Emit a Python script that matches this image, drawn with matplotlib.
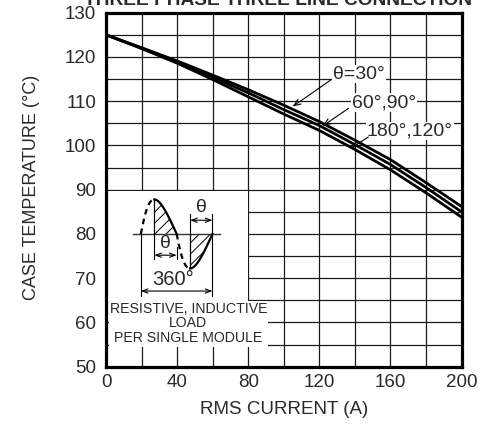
import numpy as np
import matplotlib
matplotlib.use("Agg")
import matplotlib.pyplot as plt
from matplotlib.patches import Rectangle

plt.rcParams['font.family'] = ['Liberation Sans', 'DejaVu Sans']
plt.rcParams['hatch.linewidth'] = 0.7

# ---- data ----
current = [0, 20, 40, 60, 80, 100, 120, 140, 160, 180, 200]
temp_30 = [125, 122.1, 119.1, 115.9, 112.6, 109.1, 105.4, 101.2, 96.8, 91.6, 86.2]
temp_60_90 = [125, 122.0, 118.8, 115.4, 111.9, 108.1, 104.5, 100.2, 95.7, 90.5, 85.0]
temp_180_120 = [125, 121.9, 118.6, 114.9, 111.0, 107.1, 103.4, 99.1, 94.5, 89.3, 83.8]
series_labels = ["θ=30°", "60°,90°", "180°,120°"]
x_ticks = [0, 40, 80, 120, 160, 200]
y_ticks = [50, 60, 70, 80, 90, 100, 110, 120, 130]
title = "THREE PHASE THREE LINE CONNECTION"
xlabel = "RMS CURRENT (A)"
ylabel = "CASE TEMPERATURE (°C)"
note_lines = "RESISTIVE, INDUCTIVE\nLOAD\nPER SINGLE MODULE"

TXT = '#2a2a2a'
W, H = 482, 430
fig = plt.figure(figsize=(W / 100, H / 100), dpi=100)
L, R, T, B = 106, 461.5, 12.7, 366.7
ax = fig.add_axes([L / W, 1 - B / H, (R - L) / W, (B - T) / H])

ax.set_xlim(0, 200)
ax.set_ylim(50, 130)
ax.set_xticks(np.arange(0, 201, 20))
ax.set_yticks(np.arange(50, 131, 5))
ax.set_xticklabels([str(v) if v in x_ticks else "" for v in range(0, 201, 20)])
ax.set_yticklabels([str(v) if v in y_ticks else "" for v in range(50, 131, 5)])
ax.tick_params(length=0, labelsize=13.5, colors=TXT)
ax.tick_params(axis='x', pad=5)
ax.tick_params(axis='y', pad=7)
ax.set_axisbelow(True)
ax.grid(True, color='#1a1a1a', lw=0.9)
for s in ax.spines.values():
    s.set_linewidth(2.3)
    s.set_color('black')

# white boxes hiding grid for inset
ax.add_patch(Rectangle((0, 64.5), 79.7, 25.3, facecolor='white', edgecolor='none', zorder=1))
ax.add_patch(Rectangle((1.9, 54.5), 89.1, 10.3, facecolor='white', edgecolor='none', zorder=1))

# curves
for ys in (temp_30, temp_60_90, temp_180_120):
    ax.plot(current, ys, color='black', lw=2.0, zorder=3, solid_capstyle='butt')

# curve labels
lab_pos = [(142.3, 116.1), (156.5, 109.7), (171.0, 103.3)]
arrow_from = [(126.5, 114.8), (136.5, 108.4), (147.6, 101.9)]
arrow_to = [(105.0, 108.8), (121.9, 104.4), (138.2, 99.5)]
for lab, p, a0, a1 in zip(series_labels, lab_pos, arrow_from, arrow_to):
    ax.text(p[0], p[1], lab, fontsize=14, ha='center', va='center', color=TXT, zorder=4,
            bbox=dict(facecolor='white', edgecolor='none', pad=0.5))
    ax.annotate("", xy=a1, xytext=a0, zorder=4,
                arrowprops=dict(arrowstyle='->,head_length=0.5,head_width=0.2', lw=0.8, color='black',
                                shrinkA=0, shrinkB=0))

# inset waveform diagram
x0, P, A, base, sk = 19.6, 40.3, 7.8, 80.0, 2.5
def wave(t):
    t = np.asarray(t)
    sgn = np.where(t <= np.pi, -1.0, 1.0)
    return x0 + P * t / (2 * np.pi) + sgn * sk * np.sin(t), base + A * np.sin(t)

ax.plot([15, 64.3], [base, base], color='#333333', lw=1.0, zorder=3)
for ta, tb, dashed in [(0, np.pi / 2, True), (np.pi / 2, np.pi, False),
                       (np.pi, 1.5 * np.pi, True), (1.5 * np.pi, 2 * np.pi, False)]:
    tt = np.linspace(ta, tb, 60)
    xx, yy = wave(tt)
    ax.plot(xx, yy, color='black', lw=1.6, zorder=3,
            ls=(0, (2.5, 2.0)) if dashed else '-')
    if not dashed:
        px = np.concatenate([xx, [xx[0]]])
        py = np.concatenate([yy, [base]])
        ax.fill(px, py, facecolor='none', edgecolor='black', hatch='///', lw=0, zorder=2)
        ax.plot([xx[0], xx[0]], [base, yy[0]], color='black', lw=0.9, zorder=3)

xp, yp = wave(np.pi / 2)
xn, yn = wave(1.5 * np.pi)
xe, _ = wave(2 * np.pi)
xm, _ = wave(np.pi)
dim = dict(arrowstyle='<->,head_length=0.4,head_width=0.15', lw=0.8, color='black', shrinkA=0, shrinkB=0)
# upper theta
ax.plot([xn, xn], [base, 84.6], color='black', lw=0.8, zorder=3)
ax.plot([xe, xe], [base, 84.6], color='black', lw=0.8, zorder=3)
ax.annotate("", xy=(xn, 83.1), xytext=(xe, 83.1), arrowprops=dim, zorder=3)
ax.text((xn + xe) / 2, 86.0, "θ", fontsize=14, ha='center', va='center', color=TXT, zorder=4)
# lower theta
ax.plot([xp, xp], [base, 74.3], color='black', lw=0.8, zorder=3)
ax.plot([xm, xm], [77.0, 74.3], color='black', lw=0.8, zorder=3)
ax.annotate("", xy=(xp, 75.2), xytext=(xm, 75.2), arrowprops=dim, zorder=3)
ax.text((xp + xm) / 2, 77.9, "θ", fontsize=14, ha='center', va='center', color=TXT, zorder=4)
# 360
ax.plot([x0, x0], [base, 65.9], color='black', lw=0.8, zorder=3)
ax.plot([xe, xe], [base, 65.9], color='black', lw=0.8, zorder=3)
ax.annotate("", xy=(x0, 67.1), xytext=(xe, 67.1), arrowprops=dim, zorder=3)
ax.text(37.5, 69.7, "360°", fontsize=14.5, ha='center', va='center', color=TXT, zorder=4)

ax.text(46.3, 59.8, note_lines, fontsize=10.2, ha='center', va='center', color=TXT,
        linespacing=1.07, zorder=4)

# title (clipped at top, as in the original) and axis labels
fig.text(277.5 / W, 1 - 5 / H, title, ha='center', va='baseline', fontsize=13.8,
         fontweight='bold', color=TXT)
fig.text(283.8 / W, 1 - 410 / H, xlabel, ha='center', va='center', fontsize=13.5, color=TXT)
fig.text(32 / W, 1 - 187 / H, ylabel, ha='center', va='center', rotation=90, fontsize=13,
         color=TXT)

fig.savefig("out.png", dpi=100)
